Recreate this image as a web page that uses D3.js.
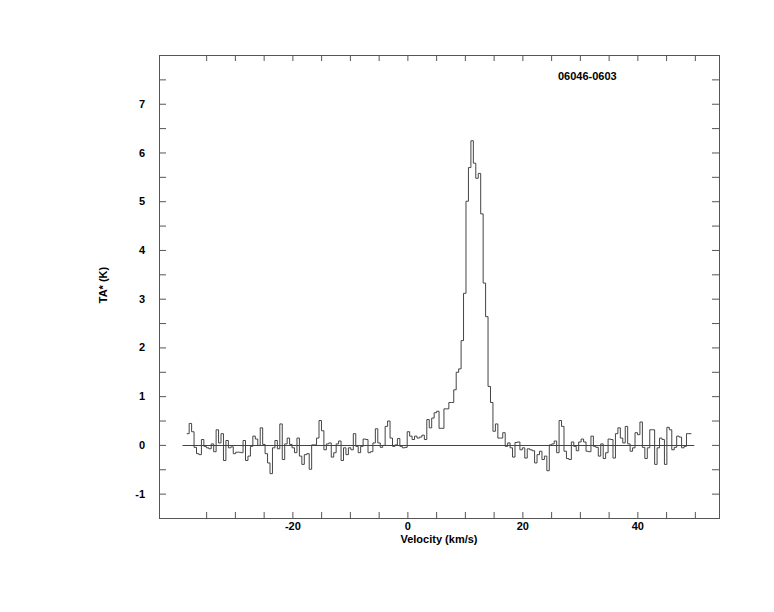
<!DOCTYPE html>
<html><head><meta charset="utf-8">
<script src="https://cdn.jsdelivr.net/npm/d3@7"></script>
<style>
body{margin:0;background:#fff}
svg{display:block;background:#fff}
text{font-family:"Liberation Sans",Arial,Helvetica,sans-serif;font-weight:bold;font-size:11px;fill:#000}
</style>
</head><body><svg id="c" width="774" height="612"></svg>
<script>
// ---- data ----
const title = "06046-0603";
const xLabel = "Velocity (km/s)";
const yLabel = "TA* (K)";
const xTickValues = [-35,-30,-25,-20,-15,-10,-5,0,5,10,15,20,25,30,35,40,45,50];
const xTickLabels = [-20, 0, 20, 40];
const yTickValues = [-1,-0.5,0,0.5,1,1.5,2,2.5,3,3.5,4,4.5,5,5.5,6,6.5,7,7.5];
const yTickLabels = [-1,0,1,2,3,4,5,6,7];
const velocityStart = -38.38;   // left edge of first channel (km/s)
const channelWidth = 0.4261;    // km/s
const baselineRange = [-39.1, 49.9];
const antennaTemp = [
 0.23, 0.44, 0.27, -0.05, -0.18, -0.2, 0.11, -0.03, -0.06, -0.08,
 0.02, -0.14, 0.31, 0.04, 0.23, -0.32, 0.09, -0.06, -0.04, -0.18,
 -0.15, -0.15, -0.16, 0.09, -0.32, -0.23, -0.03, 0.18, 0.12, -0.01,
 0.35, 0.01, -0.18, -0.37, -0.59, -0.06, 0.09, -0.08, 0.43, -0.3,
 0.02, 0.14, 0.01, -0.06, -0.16, 0.14, -0.23, -0.4, -0.2, -0.18,
 -0.5,
 0.0, 0.0, 0.14, 0.5, 0.29, -0.1, 0.02, 0.04, -0.25, -0.16,
 0.02, 0.08, -0.32, -0.06, -0.2, -0.06, -0.1, 0.23, -0.03, -0.16,
 -0.03, 0.12, 0.11, -0.16, -0.14, 0.04, 0.33, 0.04, -0.05, -0.01,
 0.38, 0.49, 0.14, -0.03, 0.0, 0.13, -0.03, -0.06, -0.05, 0.27,
 0.18, 0.11, 0.18, 0.14, 0.16, 0.2, 0.11, 0.52, 0.35, 0.55,
 0.66, 0.69,
 0.34, 0.34, 0.74, 0.74, 0.87, 0.87, 1.13, 1.49, 1.56, 2.14,
 3.11, 5.0, 5.69, 6.24, 5.78, 5.47, 5.57, 4.74, 3.32, 2.63,
 1.2, 0.87,
 0.28, 0.43, 0.14, 0.14, 0.25, -0.03, 0.04, -0.06, -0.25, 0.05,
 0.06, -0.1, -0.06, -0.27, -0.08, -0.1, -0.12, -0.37, -0.2, -0.13,
 -0.3, -0.23, -0.53, 0.0, 0.02, 0.08, -0.16, 0.5, 0.38, -0.13,
 -0.28, -0.3, 0.06, -0.03, -0.12, 0.06,
 0.12, 0.06, -0.13, -0.14, 0.18, -0.03, -0.05, -0.23, 0.02, -0.28,
 -0.16, 0.12, 0.11, -0.27, 0.23, 0.35, 0.14, 0.04, 0.38, 0.02,
 -0.13, -0.06, 0.25, 0.21, 0.47, -0.05, -0.28, -0.06, 0.31, 0.31,
 -0.4, -0.06, 0.14, 0.11, -0.4, 0.36, 0.31, -0.1, -0.05, 0.18,
 0.16, -0.06, -0.03, 0.23, 0.23
];

// ---- layout ----
const L = 159, R = 719, T = 55, B = 518;
const svg = d3.select("#c");
const x = d3.scaleLinear().domain([-43.2, 54.2]).range([L, R]);
const y = d3.scaleLinear().domain([-1.5, 8]).range([B, T]);
const frameColor = "#555";

// channel edges
const pts = antennaTemp.map((v, i) => [velocityStart + i * channelWidth, v]);
pts.push([velocityStart + antennaTemp.length * channelWidth, antennaTemp[antennaTemp.length - 1]]);

// baseline
svg.append("line")
  .attr("x1", x(baselineRange[0])).attr("x2", x(baselineRange[1]))
  .attr("y1", Math.round(y(0)) + 0.5).attr("y2", Math.round(y(0)) + 0.5)
  .attr("stroke", "#444").attr("stroke-width", 1);

// spectrum
const line = d3.line().x(d => x(d[0])).y(d => y(d[1])).curve(d3.curveStepAfter);
svg.append("path").datum(pts)
  .attr("d", line).attr("fill", "none")
  .attr("stroke", "#444").attr("stroke-width", 1);

// axes (ticks inward)
const fmtX = d => xTickLabels.includes(d) ? String(d) : "";
const fmtY = d => yTickLabels.includes(d) ? String(d) : "";
const gB = svg.append("g").attr("transform", `translate(0,${B})`)
  .call(d3.axisBottom(x).tickValues(xTickValues).tickSize(-6).tickPadding(4).tickFormat(fmtX));
const gT = svg.append("g").attr("transform", `translate(0,${T})`)
  .call(d3.axisTop(x).tickValues(xTickValues).tickSize(-6).tickFormat(""));
const gL = svg.append("g").attr("transform", `translate(${L},0)`)
  .call(d3.axisLeft(y).tickValues(yTickValues).tickSize(-7).tickPadding(14).tickFormat(fmtY));
const gR = svg.append("g").attr("transform", `translate(${R},0)`)
  .call(d3.axisRight(y).tickValues(yTickValues).tickSize(-7).tickFormat(""));
[gB, gT, gL, gR].forEach(g => {
  g.select(".domain").remove();
  g.selectAll(".tick line").attr("stroke", frameColor);
  g.selectAll("text").attr("font-size", null).attr("font-family", null).attr("fill", "#000");
});

// frame
svg.append("rect").attr("x", L + 0.5).attr("y", T + 0.5)
  .attr("width", R - L).attr("height", B - T)
  .attr("fill", "none").attr("stroke", frameColor).attr("stroke-width", 1);

// labels
svg.append("text").attr("x", (L + R) / 2).attr("y", 543)
  .attr("text-anchor", "middle").text(xLabel);
svg.append("text").attr("transform", "translate(107,285) rotate(-90)")
  .attr("text-anchor", "middle").text(yLabel);
svg.append("text").attr("x", 558).attr("y", 80).text(title);
</script>
</body></html>
